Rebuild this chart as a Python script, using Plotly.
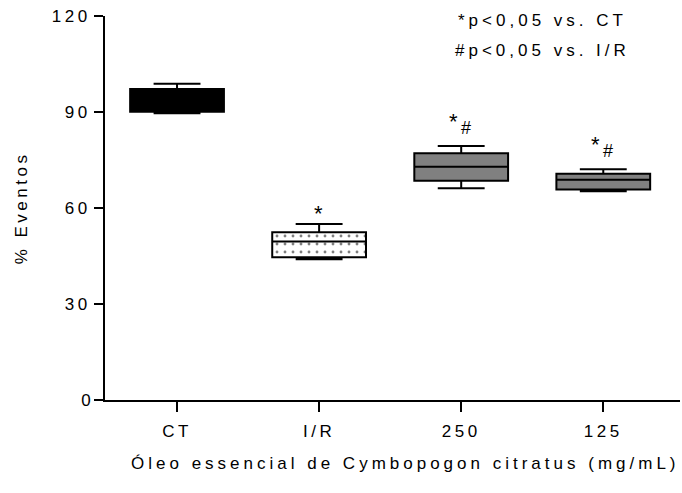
import plotly.graph_objects as go

# Group labels and box summary statistics (% Eventos)
groups = ["CT", "I/R", "250", "125"]
lower_whisker = [89.6, 44.0, 66.2, 65.2]
q1 = [90.1, 44.6, 68.5, 65.8]
median = [94.0, 49.5, 72.9, 68.8]
q3 = [97.2, 52.4, 77.1, 70.7]
upper_whisker = [98.8, 55.0, 79.4, 72.1]

fills = ["#000000", "#ffffff", "#808080", "#808080"]

# Significance marks above each group
sig_marks = ["", "*", "*#", "*#"]

y_ticks = [0, 30, 60, 90, 120]

FONT = "Liberation Sans, Arial, sans-serif"
BOX_W = 0.66
BLACK = "#000000"

fig = go.Figure()

# Dotted fill for the I/R box: a patterned bar spanning q1..q3 under the box outline
ir = groups.index("I/R")
fig.add_trace(go.Bar(
    x=[ir], y=[q3[ir] - q1[ir]], base=[q1[ir]],
    width=BOX_W,
    marker=dict(color="#ffffff", line=dict(width=0),
                pattern=dict(shape=".", size=8, solidity=0.1, fgcolor=BLACK, bgcolor="#ffffff")),
    hoverinfo="skip", showlegend=False,
))

for i, g in enumerate(groups):
    fill = "rgba(0,0,0,0)" if g == "I/R" else fills[i]
    fig.add_trace(go.Box(
        x=[i], q1=[q1[i]], median=[median[i]], q3=[q3[i]],
        lowerfence=[lower_whisker[i]], upperfence=[upper_whisker[i]],
        fillcolor=fill, line=dict(color=BLACK, width=2),
        width=BOX_W, whiskerwidth=0.5, boxpoints=False, showlegend=False,
        name=g,
    ))

annotations = []
for i, g in enumerate(groups):
    marks = sig_marks[i]
    if marks == "*":
        annotations.append(dict(x=i, y=upper_whisker[i], xref="x", yref="y", text="*", showarrow=False,
                                yanchor="bottom", yshift=-4, xshift=-1,
                                font=dict(family=FONT, size=22, color=BLACK)))
    elif marks == "*#":
        annotations.append(dict(x=i, y=upper_whisker[i], xref="x", yref="y", text="*", showarrow=False,
                                yanchor="bottom", yshift=10, xshift=-8,
                                font=dict(family=FONT, size=22, color=BLACK)))
        annotations.append(dict(x=i, y=upper_whisker[i], xref="x", yref="y", text="#", showarrow=False,
                                yanchor="bottom", yshift=6, xshift=5,
                                font=dict(family=FONT, size=18, color=BLACK)))

annotations += [
    dict(xref="paper", yref="paper", x=0.76, y=0.987, xanchor="center", yanchor="middle",
         text="*p<0,05 vs. CT", showarrow=False, font=dict(family=FONT, size=17, color=BLACK)),
    dict(xref="paper", yref="paper", x=0.76, y=0.911, xanchor="center", yanchor="middle",
         text="#p<0,05 vs. I/R", showarrow=False, font=dict(family=FONT, size=17, color=BLACK)),
    # x-axis title
    dict(xref="paper", yref="paper", x=0.523, y=-0.166, xanchor="center", yanchor="middle",
         text="Óleo essencial de Cymbopogon citratus (mg/mL)", showarrow=False,
         font=dict(family=FONT, size=17, color=BLACK)),
]

fig.update_layout(
    width=682, height=493,
    margin=dict(l=105, r=2, t=16, b=93),
    paper_bgcolor="#ffffff", plot_bgcolor="#ffffff",
    font=dict(family=FONT, size=17, color=BLACK),
    barmode="overlay",
    annotations=annotations,
    xaxis=dict(
        tickmode="array", tickvals=list(range(len(groups))), ticktext=groups,
        range=[-0.507, 3.54],
        showline=True, linecolor=BLACK, linewidth=2,
        ticks="outside", ticklen=10, tickwidth=2, tickcolor=BLACK,
        ticklabelstandoff=5,
        showgrid=False, zeroline=False,
        tickfont=dict(family=FONT, size=17),
    ),
    yaxis=dict(
        range=[0, 120], tickvals=y_ticks,
        showline=True, linecolor=BLACK, linewidth=2,
        ticks="outside", ticklen=9, tickwidth=2, tickcolor=BLACK,
        showgrid=False, zeroline=False,
        tickfont=dict(family=FONT, size=17),
        title=dict(text="% Eventos", font=dict(family=FONT, size=17), standoff=30),
    ),
)

# Wide letter spacing on the chart's text labels
spacing_js = """
var gd = document.getElementById('{plot_id}');
function spaceText() {
  var rules = [
    ['.xtick text', '3.5px'],
    ['.ytick text', '3.5px'],
    ['.g-ytitle text', '3.5px'],
    ['.annotation-text', '4px']
  ];
  rules.forEach(function (r) {
    gd.querySelectorAll(r[0]).forEach(function (t) {
      if ((t.textContent || '').length > 1) t.style.letterSpacing = r[1];
    });
  });
}
spaceText();
gd.on('plotly_afterplot', spaceText);
"""

fig.write_html("out.html", post_script=spacing_js)
